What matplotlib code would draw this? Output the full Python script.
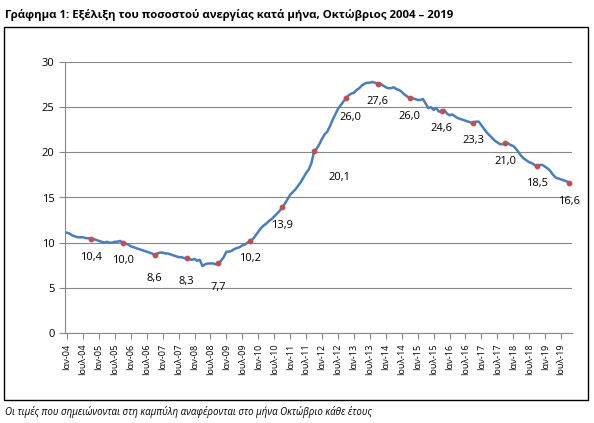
import matplotlib
matplotlib.use("Agg")
from matplotlib import pyplot as plt
from matplotlib.patches import Rectangle

plt.rcParams['font.family'] = ['Open Sans', 'Noto Sans', 'DejaVu Sans']

# monthly unemployment rate, Jan 2004 - Oct 2019
rate = [
    11.1, 11.0, 10.8, 10.7, 10.6, 10.6, 10.6, 10.5, 10.5, 10.4, 10.4, 10.3,
    10.2, 10.1, 10.0, 10.1, 10.0, 10.0, 10.1, 10.1, 10.2, 10.0, 9.9, 9.8,
    9.6, 9.5, 9.4, 9.3, 9.2, 9.1, 9.0, 8.9, 8.8, 8.6, 8.8, 8.9,
    8.9, 8.8, 8.8, 8.7, 8.6, 8.5, 8.4, 8.4, 8.3, 8.3, 8.2, 8.1,
    8.2, 8.0, 8.1, 7.4, 7.6, 7.7, 7.7, 7.7, 7.6, 7.7, 8.0, 8.4,
    9.0, 9.0, 9.1, 9.3, 9.4, 9.5, 9.7, 9.8, 10.0, 10.2, 10.4, 10.8,
    11.2, 11.6, 11.9, 12.1, 12.4, 12.6, 12.9, 13.2, 13.5, 13.9, 14.3, 14.8,
    15.3, 15.6, 15.9, 16.3, 16.7, 17.2, 17.7, 18.1, 18.8, 20.1, 20.4, 20.9,
    21.5, 22.0, 22.3, 22.9, 23.6, 24.2, 24.8, 25.2, 25.6, 26.0, 26.3, 26.5,
    26.6, 26.9, 27.1, 27.4, 27.6, 27.7, 27.7, 27.8, 27.7, 27.6, 27.6, 27.4,
    27.2, 27.1, 27.1, 27.2, 27.0, 26.9, 26.7, 26.4, 26.2, 26.0, 26.0, 25.9,
    25.8, 25.8, 25.9, 25.4, 24.9, 25.0, 24.7, 24.9, 24.5, 24.6, 24.7, 24.3,
    24.1, 24.2, 24.0, 23.8, 23.7, 23.6, 23.5, 23.4, 23.3, 23.3, 23.4, 23.4,
    23.0, 22.6, 22.2, 21.9, 21.6, 21.3, 21.1, 20.9, 20.9, 21.0, 21.0, 20.8,
    20.7, 20.4, 20.0, 19.6, 19.3, 19.1, 18.9, 18.8, 18.6, 18.5, 18.6, 18.6,
    18.4, 18.2, 17.9, 17.5, 17.2, 17.1, 17.0, 16.9, 16.8, 16.6,
]
years = list(range(2004, 2020))
october = [10.4, 10.0, 8.6, 8.3, 7.7, 10.2, 13.9, 20.1, 26.0, 27.6, 26.0, 24.6, 23.3, 21.0, 18.5, 16.6]
tick_labels = []
for y in years:
    tick_labels += ["Ιαν-%02d" % (y % 100), "Ιουλ-%02d" % (y % 100)]

# label offsets in points (dx, dy)
offsets = {2008: (0, -17), 2006: (0, -17), 2007: (0, -17), 2011: (18, -19), 2012: (3, -14)}

fig = plt.figure(figsize=(5.94, 4.23), dpi=100)
fig.patches.append(Rectangle((0.006, 0.055), 0.984, 0.88, transform=fig.transFigure,
                             fill=False, edgecolor="black", lw=1.0))
fig.text(0.008, 0.965, "Γράφημα 1: Εξέλιξη του ποσοστού ανεργίας κατά μήνα, Οκτώβριος 2004 – 2019",
         fontsize=8.2, fontweight="bold", va="center")
fig.text(0.008, 0.025, "Οι τιμές που σημειώνονται στη καμπύλη αναφέρονται στο μήνα Οκτώβριο κάθε έτους",
         fontsize=7, style="italic", va="center")

ax = fig.add_axes([65 / 594, 90 / 423, 507 / 594, 271 / 423])
ax.plot(range(len(rate)), rate, color="#4a7ebb", lw=1.8, zorder=3)
oct_idx = [(y - 2004) * 12 + 9 for y in years]
ax.scatter(oct_idx, october, color="#c0504d", s=10, zorder=4, clip_on=False)
for y, i, v in zip(years, oct_idx, october):
    dx, dy = offsets.get(y, (0, -13))
    ax.annotate(("%.1f" % v).replace(".", ","), (i, v), xytext=(dx, dy), textcoords="offset points",
                ha="center", va="center", fontsize=8)

ax.set_xlim(-0.75, 190.1)
ax.set_ylim(0, 30)
ax.set_yticks(range(0, 31, 5))
ax.set_xticks(range(0, 187, 6))
ax.set_xticklabels(tick_labels, rotation=90, fontsize=6.5)
ax.tick_params(axis="y", labelsize=8, length=4, color="#888888")
ax.tick_params(axis="x", length=4, color="#888888")
ax.grid(axis="y", color="#888888", lw=0.8)
ax.set_axisbelow(True)
for s in ["top", "right"]:
    ax.spines[s].set_visible(False)
for s in ["left", "bottom"]:
    ax.spines[s].set_color("#888888")

plt.savefig("out.png", dpi=100)
